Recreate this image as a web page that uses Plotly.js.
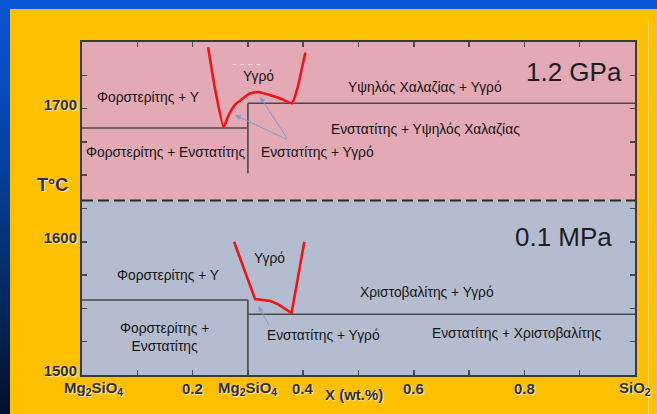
<!DOCTYPE html>
<html>
<head>
<meta charset="utf-8">
<script src="https://cdn.plot.ly/plotly-3.0.1.min.js"></script>
<style>
  html, body { margin: 0; padding: 0; }
  #frame { position: relative; width: 657px; height: 414px; background: #ffc000; overflow: hidden; }
  #topbar { position: absolute; left: 0; top: 0; width: 657px; height: 9px; background: #0a56d6; }
  #leftbar { position: absolute; left: 0; top: 0; width: 10px; height: 414px;
             background: linear-gradient(to bottom, #0a56d6 0%, #0645a8 35%, #042a66 70%, #02102a 100%); }
  #edge { position: absolute; left: 648px; top: 22px; width: 1px; height: 392px; background: #ffd865; }
  #chart { position: absolute; left: 0; top: 0; width: 657px; height: 414px; }
</style>
</head>
<body>
<div id="frame">
  <div id="topbar"></div>
  <div id="leftbar"></div>
  <div id="edge"></div>
  <div id="chart"></div>
</div>
<script>
// Mg2SiO4 - SiO2 system at two pressures: 1.2 GPa (upper) and 0.1 MPa (lower)

// x-axis ticks (mass fraction SiO2 between Mg2SiO4 and SiO2)
const xTickVals = [0, 0.1, 0.2, 0.3, 0.4, 0.5, 0.6, 0.7, 0.8, 0.9, 1.0];
const xLabelVals = [0, 0.2, 0.3, 0.4, 0.6, 0.8, 1.0];
const xLabelText = ['Mg<sub>2</sub>SiO<sub>4</sub>', '0.2', 'Mg<sub>2</sub>SiO<sub>4</sub>', '0.4',
                    '0.6', '0.8', 'SiO<sub>2</sub>'];
const tempRange = [1500, 1750];
const tempLabels = [1500, 1600, 1700];

// temperature separating the two pressure panels (°C)
const panelSplitT = 1631;

// 1.2 GPa liquidus
const hpLiqX = [0.228, 0.240, 0.256, 0.265, 0.277, 0.292, 0.304, 0.319, 0.341, 0.362, 0.380, 0.390, 0.398, 0.404];
const hpLiqT = [1746, 1716, 1686, 1695, 1703, 1708, 1711.5, 1712.5, 1710, 1707, 1704, 1716, 1731, 1742];

// 0.1 MPa liquidus
const lpLiqX = [0.275, 0.295, 0.313, 0.341, 0.355, 0.379, 0.390, 0.402];
const lpLiqT = [1600, 1577, 1557, 1555.6, 1553, 1546.5, 1573, 1600];

// subsolidus / liquidus phase boundaries, 1.2 GPa
const hpFoEnX = [0, 0.3],   hpFoEnT = [1685.4, 1685.4];
const hpEnStemX = [0.3, 0.3], hpEnStemT = [1704, 1651.5];
const hpEnQzX = [0.3, 1.0], hpEnQzT = [1704, 1704];

// subsolidus / liquidus phase boundaries, 0.1 MPa
const lpFoEnX = [0, 0.3],   lpFoEnT = [1556.3, 1556.3];
const lpEnStemX = [0.3, 0.3], lpEnStemT = [1556.3, 1500];
const lpEnCrX = [0.3, 1.0], lpEnCrT = [1545.6, 1545.6];

// faint guide above the 1.2 GPa liquid field
const guideX = [0.272, 0.326], guideT = [1733, 1733];

// field labels: [text, x, T]
const fieldLabels = [
  ['Φορστερίτης + Υ', 0.120, 1708.7],
  ['Υγρό', 0.320, 1724],
  ['Υψηλός Χαλαζίας + Υγρό', 0.621, 1715.5],
  ['Φορστερίτης + Ενστατίτης', 0.152, 1667.4],
  ['Ενστατίτης + Υγρό', 0.426, 1666.7],
  ['Ενστατίτης + Υψηλός Χαλαζίας', 0.621, 1684],
  ['Υγρό', 0.339, 1587.8],
  ['Φορστερίτης + Υ', 0.156, 1575],
  ['Χριστοβαλίτης + Υγρό', 0.623, 1562.3],
  ['Φορστερίτης +<br>Ενστατίτης', 0.150, 1528],
  ['Ενστατίτης + Υγρό', 0.437, 1530],
  ['Ενστατίτης + Χριστοβαλίτης', 0.786, 1530.8]
];

// pressure labels: [text, right-edge x, T]
const pressureLabels = [
  ['1.2 GPa', 0.980, 1727.5],
  ['0.1 MPa', 0.962, 1603.6]
];

// pointer arrows from labels to the peritectic regions: [tipX, tipT, tailX, tailT]
const pointerArrows = [
  [0.277, 1695, 0.373, 1676.4],
  [0.322, 1708.7, 0.373, 1676.4],
  [0.319, 1551.8, 0.340, 1536]
];

const boundaryStyle = { color: '#4a4a4a', width: 1.6 };
const liquidusStyle = { color: '#f01414', width: 2.6 };

function seg(x, y, line, extra) {
  return Object.assign({ x: x, y: y, mode: 'lines', line: line, hoverinfo: 'skip', showlegend: false, type: 'scatter' }, extra || {});
}

const traces = [
  seg(guideX, guideT, { color: 'rgba(245,235,240,0.9)', width: 1, dash: '4px,4px' }),
  seg(hpFoEnX, hpFoEnT, boundaryStyle),
  seg(hpEnStemX, hpEnStemT, boundaryStyle),
  seg(hpEnQzX, hpEnQzT, boundaryStyle),
  seg(lpFoEnX, lpFoEnT, boundaryStyle),
  seg(lpEnStemX, lpEnStemT, boundaryStyle),
  seg(lpEnCrX, lpEnCrT, boundaryStyle),
  seg([0, 1], [panelSplitT, panelSplitT], { color: '#2a2a2a', width: 2.2, dash: '11px,5px' }),
  seg(hpLiqX, hpLiqT, liquidusStyle, { line: Object.assign({ shape: 'spline', smoothing: 0.4 }, liquidusStyle) }),
  seg(lpLiqX, lpLiqT, liquidusStyle)
];

const labelFont = { family: 'Liberation Sans, Arial, sans-serif', size: 13.8, color: '#141414' };
const axisFont = { family: 'Liberation Sans, Arial, sans-serif', size: 15, color: '#2e2e2e',
                   weight: 'bold', shadow: '1px 1px 1px rgba(255,255,255,0.8)' };

const annotations = [];
fieldLabels.forEach(function (f) {
  annotations.push({ text: f[0], x: f[1], y: f[2], xref: 'x', yref: 'y', showarrow: false,
                     font: labelFont, xanchor: 'center', yanchor: 'middle', align: 'center' });
});
pressureLabels.forEach(function (p) {
  annotations.push({ text: p[0], x: p[1], y: p[2], xref: 'x', yref: 'y', showarrow: false,
                     font: { family: 'Liberation Sans, Arial, sans-serif', size: 26, color: '#1e1e1e' },
                     xanchor: 'right', yanchor: 'middle' });
});
pointerArrows.forEach(function (a) {
  annotations.push({ text: '', x: a[0], y: a[1], ax: a[2], ay: a[3], xref: 'x', yref: 'y',
                     axref: 'x', ayref: 'y', showarrow: true, arrowhead: 2, arrowsize: 1.1,
                     arrowwidth: 1, arrowcolor: '#7f9dc9', standoff: 0 });
});
// x-axis composition labels, end-member label nudged inward off the corner
xLabelVals.forEach(function (v, i) {
  annotations.push({ text: xLabelText[i], x: v, y: -0.042, xref: 'x', yref: 'paper', showarrow: false,
                     font: axisFont, xanchor: 'center', yanchor: 'middle', xshift: i === 0 ? 11 : 0 });
});
// axis titles
annotations.push({ text: 'X (wt.%)', x: 0.491, y: -0.058, xref: 'x', yref: 'paper', showarrow: false,
                   font: axisFont, xanchor: 'center', yanchor: 'middle' });
annotations.push({ text: 'T°C', x: -0.054, y: 1642.6, xref: 'paper', yref: 'y', showarrow: false,
                   font: Object.assign({}, axisFont, { size: 18 }), xanchor: 'center', yanchor: 'middle' });

const shapes = [
  { type: 'rect', xref: 'paper', yref: 'y', x0: 0, x1: 1, y0: panelSplitT, y1: tempRange[1],
    fillcolor: '#e3a9b5', line: { width: 0 }, layer: 'below' },
  { type: 'rect', xref: 'paper', yref: 'y', x0: 0, x1: 1, y0: tempRange[0], y1: panelSplitT,
    fillcolor: '#b4bccf', line: { width: 0 }, layer: 'below' }
];

const layout = {
  width: 657, height: 414,
  margin: { l: 82, r: 22, t: 42, b: 39, pad: 0 },
  paper_bgcolor: 'rgba(0,0,0,0)',
  plot_bgcolor: '#b4bccf',
  showlegend: false,
  xaxis: {
    range: [0, 1], tickmode: 'array', tickvals: xTickVals, showticklabels: false,
    ticks: 'inside', ticklen: 5, tickwidth: 1.5, tickcolor: '#4a4a4a',
    showline: true, linecolor: '#3a3a3a', linewidth: 2, mirror: 'ticks',
    showgrid: false, zeroline: false, fixedrange: true
  },
  yaxis: {
    range: tempRange, tickmode: 'array', tickvals: tempLabels, ticklabelshift: -4,
    ticks: 'inside', ticklen: 5, tickwidth: 1.5, tickcolor: '#4a4a4a',
    minor: { dtick: 25, tick0: 1500, ticks: 'inside', ticklen: 5, tickwidth: 1.5, tickcolor: '#4a4a4a', showgrid: false },
    showline: true, linecolor: '#3a3a3a', linewidth: 2, mirror: 'ticks',
    showgrid: false, zeroline: false, tickfont: axisFont, fixedrange: true
  },
  shapes: shapes,
  annotations: annotations
};

Plotly.newPlot('chart', traces, layout, { displayModeBar: false, staticPlot: true });
</script>
</body>
</html>
